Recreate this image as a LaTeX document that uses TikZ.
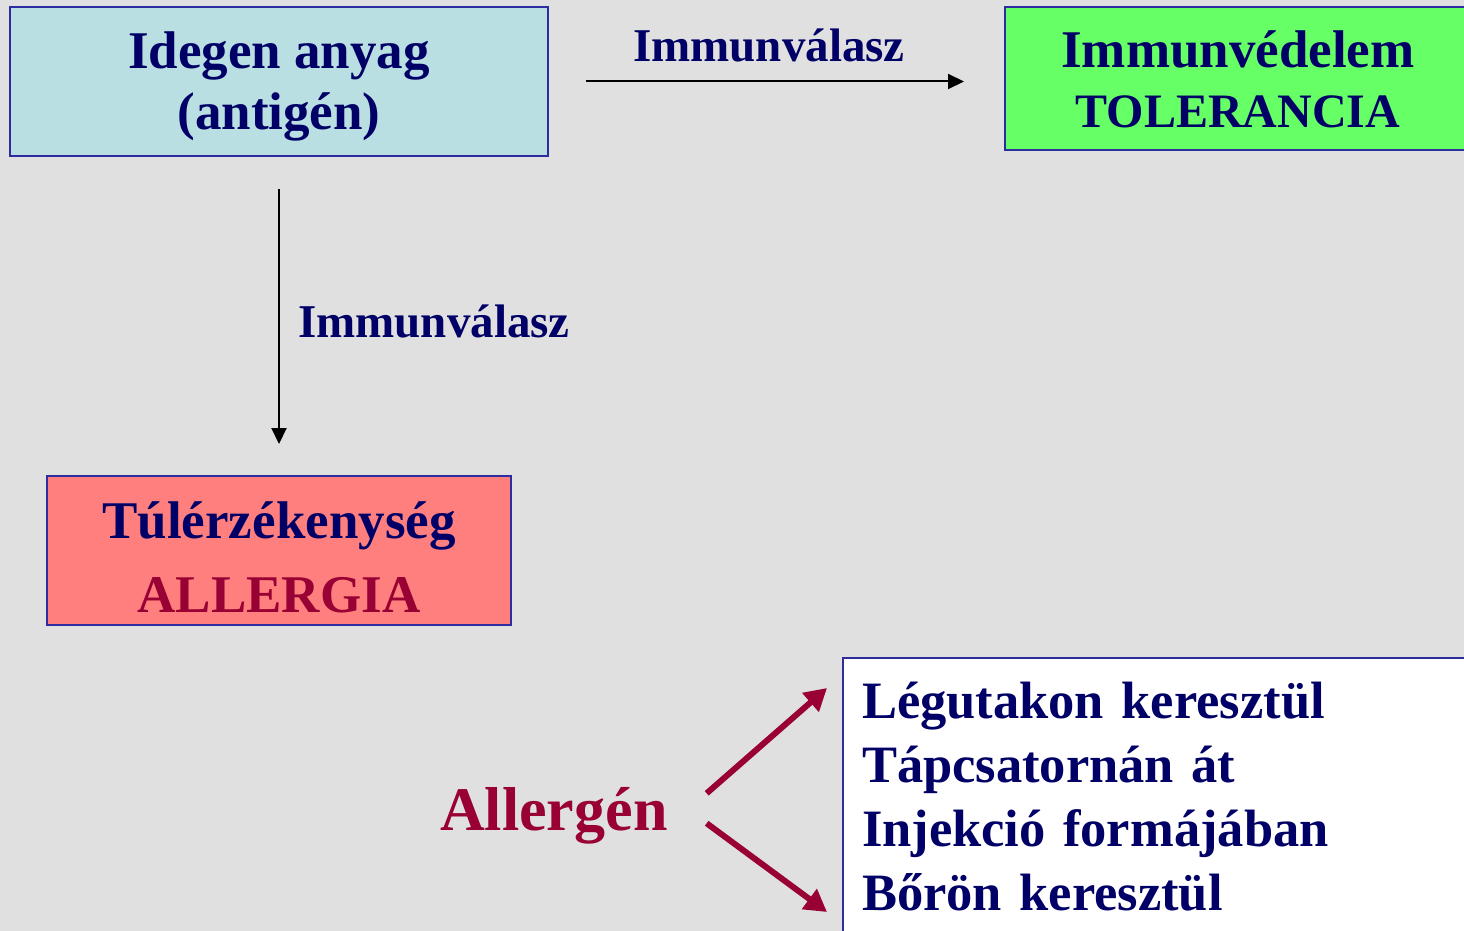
\documentclass[tikz,border=0pt]{standalone}
\usepackage{fontspec}
\setmainfont{Liberation Serif}
\usetikzlibrary{arrows.meta,positioning}
\definecolor{navy}{RGB}{0,0,102}
\definecolor{crimson}{RGB}{153,0,51}
\definecolor{boxline}{RGB}{45,45,160}
\definecolor{bggray}{RGB}{224,224,224}
\definecolor{lightcyan}{RGB}{185,223,227}
\definecolor{lightgreen}{RGB}{102,255,102}
\definecolor{salmon}{RGB}{255,127,127}

\begin{document}
\begin{tikzpicture}[x=1pt,y=-1pt,
	boxtext/.style={font=\fontsize{53}{62}\selectfont\bfseries,text=navy,align=center,inner ysep=0pt},
	reply/.style={font=\fontsize{47}{54}\selectfont\bfseries,text=navy,inner sep=0pt},
	thin arrow/.style={-{Triangle[length=16pt,width=15pt]},line width=2pt},
	thick arrow/.style={-{Triangle[length=22pt,width=24pt]},line width=6pt,crimson}]
	\fill[bggray] (0,0) rectangle (1464,931); % background, fixes the size
	\useasboundingbox (0,0) rectangle (1464,931);
	\clip (0,0) rectangle (1464,931);
	% boxes (the rules only push the lines down inside the box)
	\node[boxtext,draw=boxline,line width=2pt,fill=lightcyan,minimum width=538pt,minimum height=149pt] (antigen) at (279,81.5) {\rule{0pt}{47pt}Idegen anyag\\(antigén)\rule[-12pt]{0pt}{12pt}};
	\node[boxtext,draw=boxline,line width=2pt,fill=lightgreen,minimum width=466pt,minimum height=143pt] (tolerance) at (1238,78.5) {\rule{0pt}{51pt}Immunvédelem\\[-2pt]{\fontsize{48}{62}\selectfont TOLERANCIA}\rule[-12pt]{0pt}{12pt}};
	\node[boxtext,draw=boxline,line width=2pt,fill=salmon,minimum width=464pt,minimum height=149pt] (allergy) at (279,550.5) {\rule{0pt}{61pt}Túlérzékenység\\[12pt]\textcolor{crimson}{ALLERGIA}\rule[-12pt]{0pt}{12pt}};
	% immune response arrows
	\draw[thin arrow,shorten <=37pt,shorten >=40pt] (antigen.east) -- (antigen.east -| tolerance.west);
	\node[reply,anchor=base] (replyH) at (769,62) {Immunválasz};
	\draw[thin arrow,shorten <=32pt,shorten >=31pt] (antigen.south) -- (allergy.north);
	\node[reply,anchor=base west] (replyV) at (298,337) {Immunválasz};
	% routes of the allergen
	\node[boxtext,align=left,anchor=north west,draw=boxline,line width=2pt,fill=white,inner xsep=19pt,inner ysep=24pt,text width=620pt,font=\fontsize{52.5}{64}\selectfont\bfseries] (routes) at (842,657) {Légutakon keresztül\\Tápcsatornán át\\Injekció formájában\\Bőrön keresztül};
	\node[font=\fontsize{62}{70}\selectfont\bfseries,text=crimson,inner sep=0pt,anchor=base west] (allergen) at (440,830) {Allergén};
	\coordinate (toTop) at (827,688);
	\coordinate (toBottom) at (827,912);
	\draw[thick arrow] ([shift={(39,-22)}]allergen.east) -- (toTop);
	\draw[thick arrow] ([shift={(39,8)}]allergen.east) -- (toBottom);
\end{tikzpicture}
\end{document}
